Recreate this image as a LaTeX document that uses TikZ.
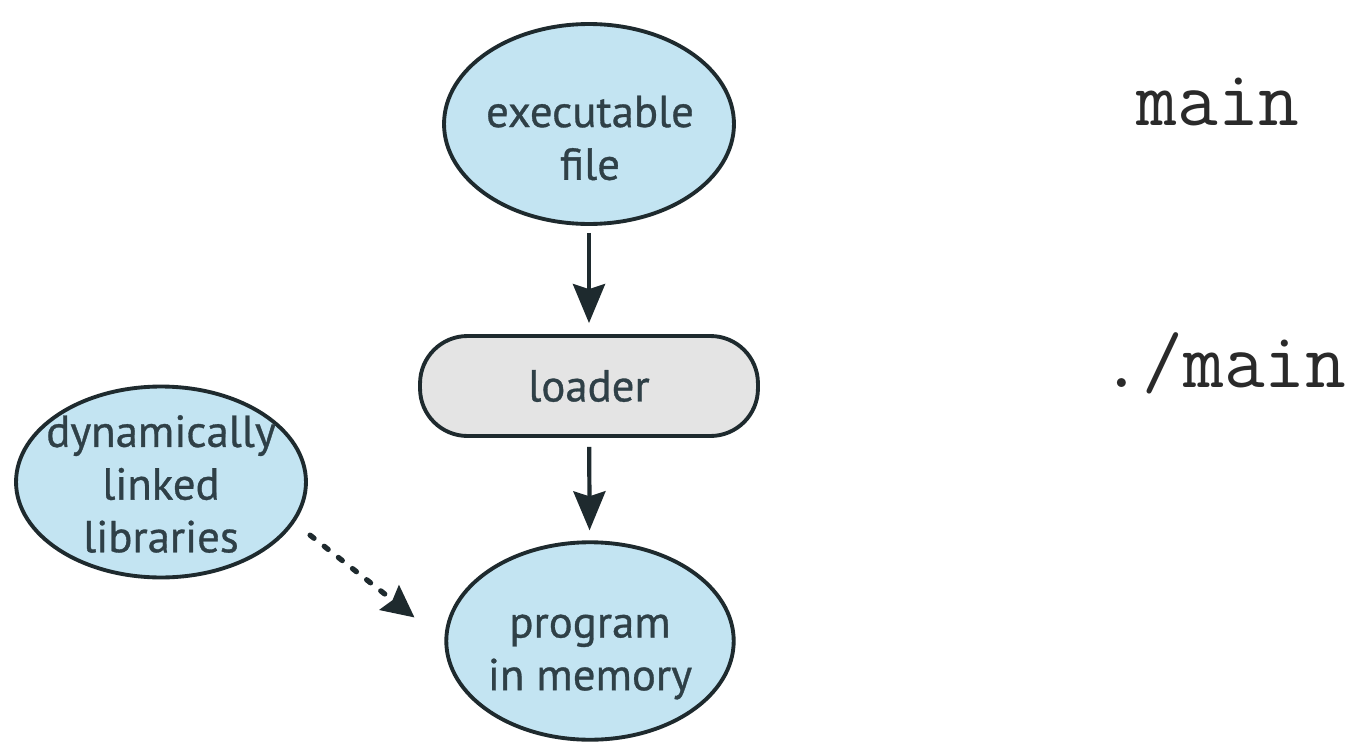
\documentclass[tikz,border=0pt]{standalone}
\usepackage{fontspec}
\setmainfont{PT Sans}
\newfontfamily\lblfont[FakeBold=0.7]{PT Sans}
\usetikzlibrary{shapes.geometric,arrows.meta}
\definecolor{nodeblue}{HTML}{C3E4F2}
\definecolor{loadergray}{HTML}{E4E4E4}
\definecolor{edgecol}{HTML}{1E2A2E}
\definecolor{txtcol}{HTML}{2F4047}
\definecolor{codecol}{HTML}{2A2A2A}
\begin{document}
\begin{tikzpicture}[x=0.02cm,y=-0.02cm,
  label text/.style={align=center, text=txtcol, inner sep=0pt, font=\lblfont\fontsize{25.5}{30}\selectfont},
  blob/.style={ellipse, draw=edgecol, fill=nodeblue, line width=2.2pt, inner sep=0pt},
  pill/.style={rectangle, rounded corners=0.95cm, draw=edgecol, fill=loadergray, line width=2.2pt, inner sep=0pt, label text},
  flow/.style={draw=edgecol, line width=2.4pt, -{Stealth[length=0.78cm,width=0.64cm,inset=0.1cm]}},
  dlink/.style={draw=edgecol, line width=3pt, line cap=round, dash pattern=on 0.1cm off 0.26cm, -{Stealth[length=0.64cm,width=0.62cm,inset=0.08cm]}},
  code/.style={text=codecol, inner sep=0pt, anchor=base, font=\ttfamily\fontsize{45}{50}\selectfont}
]
\useasboundingbox[fill=white] (0,0) rectangle (1347,744);
\node[blob, minimum width=5.8cm, minimum height=4.0cm] (exe) at (589,124) {};
\node[label text] (exet) at (590,138) {executable\\file};
\node[pill, minimum width=6.76cm, minimum height=2.0cm] (loader) at (589,386) {loader};
\node[blob, minimum width=5.75cm, minimum height=3.95cm] (prog) at (590,641) {};
\node[label text] (progt) at (590,657) {program\\in memory};
\node[blob, minimum width=5.8cm, minimum height=3.82cm] (dll) at (161,482) {};
\node[label text] (dllt) at (161,484) {dynamically\\linked\\libraries};
\draw[flow, shorten <=0.14cm, shorten >=0.22cm] (exe) -- (loader);
\draw[flow, shorten <=0.18cm, shorten >=0.2cm] (loader) -- (prog);
\draw[dlink, shorten <=0.4cm, shorten >=0.76cm] (dll.-17) -- (prog.west);
\node[code] (cmain) at (1218,125) {main};
\node[code] (crun) at (1224,387) {./main};
\end{tikzpicture}
\end{document}
